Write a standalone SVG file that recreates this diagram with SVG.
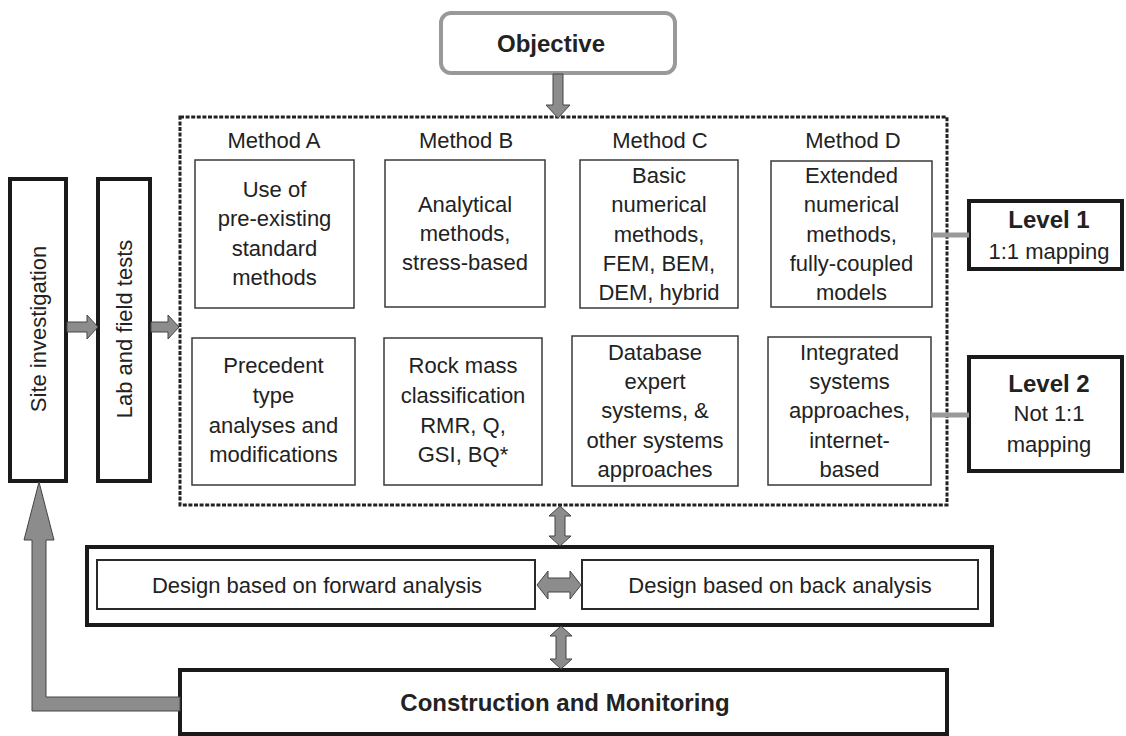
<svg xmlns="http://www.w3.org/2000/svg" width="1126" height="736" viewBox="0 0 1126 736">
<style>
text{font-family:"Liberation Sans",Arial,sans-serif;fill:#222;font-size:22px;text-anchor:middle}
.b{font-weight:bold;font-size:24px}
.box{fill:#fff;stroke:#3a3a3a;stroke-width:1.5}
.thick{fill:#fff;stroke:#1a1a1a;stroke-width:4}
.arr{fill:#8c8c8c;stroke:#444;stroke-width:1}
.lvl{stroke:#999;stroke-width:5;fill:none}
</style>
<rect width="1126" height="736" fill="#fff"/>
<g id="objective">
<rect x="441" y="13" width="234" height="60" rx="10" fill="#fff" stroke="#999" stroke-width="4"/>
<text class="b" x="551" y="52">Objective</text>
</g>
<g id="methods-frame">
<rect x="180" y="117" width="767" height="388" fill="none" stroke="#222" stroke-width="3" stroke-dasharray="4 1.6"/>
<text x="274" y="148">Method A</text>
<text x="466" y="148">Method B</text>
<text x="660" y="148">Method C</text>
<text x="853" y="148">Method D</text>
</g>
<g id="a1">
<rect class="box" x="195" y="160" width="159" height="148"/>
<text x="274.5" y="197">Use of</text>
<text x="274.5" y="226">pre-existing</text>
<text x="274.5" y="256">standard</text>
<text x="274.5" y="285">methods</text>
</g>
<g id="b1">
<rect class="box" x="385" y="160" width="160" height="147"/>
<text x="465" y="212">Analytical</text>
<text x="465" y="241">methods,</text>
<text x="465" y="270">stress-based</text>
</g>
<g id="c1">
<rect class="box" x="580" y="160" width="158" height="148"/>
<text x="659" y="183">Basic</text>
<text x="659" y="212">numerical</text>
<text x="659" y="242">methods,</text>
<text x="659" y="271">FEM, BEM,</text>
<text x="659" y="300">DEM, hybrid</text>
</g>
<g id="d1">
<rect class="box" x="771" y="161" width="161" height="146"/>
<text x="851.5" y="183">Extended</text>
<text x="851.5" y="212">numerical</text>
<text x="851.5" y="242">methods,</text>
<text x="851.5" y="271">fully-coupled</text>
<text x="851.5" y="300">models</text>
</g>
<g id="a2">
<rect class="box" x="192" y="338" width="163" height="147"/>
<text x="273.5" y="373">Precedent</text>
<text x="273.5" y="403">type</text>
<text x="273.5" y="433">analyses and</text>
<text x="273.5" y="462">modifications</text>
</g>
<g id="b2">
<rect class="box" x="384" y="338" width="158" height="147"/>
<text x="463" y="373">Rock mass</text>
<text x="463" y="403">classification</text>
<text x="463" y="433">RMR, Q,</text>
<text x="463" y="462">GSI, BQ*</text>
</g>
<g id="c2">
<rect class="box" x="572" y="336" width="166" height="150"/>
<text x="655" y="360">Database</text>
<text x="655" y="389">expert</text>
<text x="655" y="418">systems, &amp;</text>
<text x="655" y="448">other systems</text>
<text x="655" y="477">approaches</text>
</g>
<g id="d2">
<rect class="box" x="768" y="337" width="163" height="148"/>
<text x="849.5" y="360">Integrated</text>
<text x="849.5" y="389">systems</text>
<text x="849.5" y="418">approaches,</text>
<text x="849.5" y="448">internet-</text>
<text x="849.5" y="477">based</text>
</g>
<g id="site">
<rect class="thick" x="10" y="179" width="56" height="302"/>
<text transform="translate(46,329) rotate(-90)">Site investigation</text>
</g>
<g id="lab">
<rect class="thick" x="98" y="179" width="52" height="302"/>
<text transform="translate(132,329) rotate(-90)">Lab and field tests</text>
</g>
<g id="level1">
<rect class="thick" x="969" y="201" width="153" height="68"/>
<text class="b" x="1049" y="228">Level 1</text>
<text x="1049" y="259">1:1 mapping</text>
</g>
<g id="level2">
<rect class="thick" x="969" y="357" width="153" height="114"/>
<text class="b" x="1049" y="392">Level 2</text>
<text x="1049" y="421">Not 1:1</text>
<text x="1049" y="452">mapping</text>
</g>
<g id="design">
<rect class="thick" x="87" y="547" width="905" height="78"/>
<rect fill="#fff" stroke="#2a2a2a" stroke-width="2" x="97" y="560" width="438" height="49"/>
<rect fill="#fff" stroke="#2a2a2a" stroke-width="2" x="582" y="560" width="396" height="49"/>
<text x="317" y="593">Design based on forward analysis</text>
<text x="780" y="593">Design based on back analysis</text>
</g>
<g id="construction">
<rect class="thick" x="180" y="670" width="767" height="64"/>
<text class="b" x="565" y="711">Construction and Monitoring</text>
</g>
<g id="connectors">
<line class="lvl" x1="932" y1="235" x2="969" y2="235"/>
<line class="lvl" x1="931" y1="415" x2="969" y2="415"/>
<polygon class="arr" points="553,74 563,74 563,105 570,105 558,118 546,105 553,105"/>
<polygon class="arr" points="67,322 87,322 87,315 98,327 87,339 87,332 67,332"/>
<polygon class="arr" points="151,322 168,322 168,315 179,327 168,339 168,332 151,332"/>
<polygon class="arr" points="560,506 571,516 565,516 565,536 571,536 560,546 549,536 555,536 555,516 549,516"/>
<polygon class="arr" points="561,626 572,636 566,636 566,659 572,659 561,669 550,659 556,659 556,636 550,636"/>
<polygon class="arr" points="537,585 548,571 548,578 570,578 570,571 581,585 570,599 570,592 548,592 548,599"/>
<polygon class="arr" points="39,482 54,540 46,540 46,697 180,697 180,711 32,711 32,540 24,540"/>
</g>
</svg>
